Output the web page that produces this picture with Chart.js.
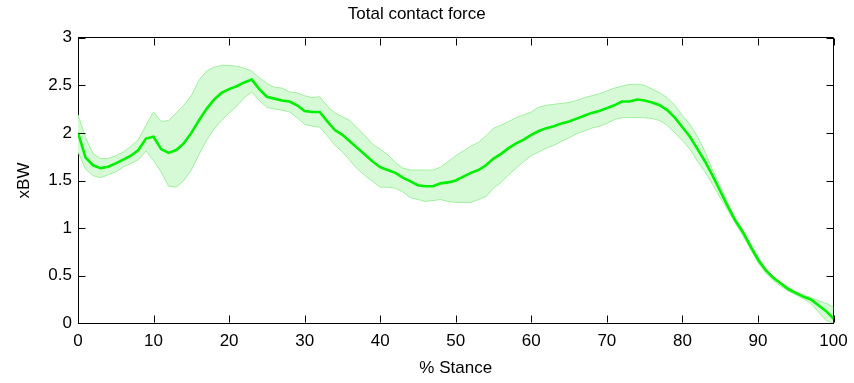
<!DOCTYPE html>
<html>
<head>
<meta charset="utf-8">
<script src="https://cdn.jsdelivr.net/npm/chart.js@4.4.1/dist/chart.umd.min.js"></script>
<style>
  html, body { margin: 0; padding: 0; background: #ffffff; }
  #wrap { width: 854px; height: 383px; }
</style>
</head>
<body>
<div id="wrap"><canvas id="chart" width="854" height="383"></canvas></div>
<script>
// Percent of stance phase, sampled every 1%
const stancePct = Array.from({ length: 101 }, (_, i) => i);

// Mean total contact force (x body weight)
const meanForce = [
  2.00, 1.74, 1.66, 1.63, 1.645, 1.68, 1.72, 1.76, 1.82, 1.94,
  1.96, 1.83, 1.79, 1.82, 1.89, 2.00, 2.13, 2.25, 2.35, 2.42,
  2.46, 2.49, 2.53, 2.56, 2.46, 2.38, 2.36, 2.34, 2.33, 2.29,
  2.23, 2.22, 2.22, 2.12, 2.03, 1.98, 1.91, 1.84, 1.77, 1.70,
  1.64, 1.61, 1.58, 1.53, 1.49, 1.45, 1.44, 1.44, 1.47, 1.48,
  1.50, 1.54, 1.58, 1.61, 1.66, 1.73, 1.78, 1.84, 1.89, 1.93,
  1.98, 2.02, 2.05, 2.07, 2.10, 2.12, 2.15, 2.18, 2.21, 2.23,
  2.26, 2.29, 2.33, 2.33, 2.35, 2.34, 2.32, 2.29, 2.24, 2.16,
  2.06, 1.96, 1.83, 1.70, 1.55, 1.39, 1.23, 1.08, 0.96, 0.81,
  0.67, 0.56, 0.48, 0.42, 0.36, 0.32, 0.28, 0.25, 0.19, 0.13,
  0.05
];

// Upper edge of the variability band
const upperForce = [
  2.19, 1.95, 1.78, 1.73, 1.73, 1.76, 1.80, 1.86, 1.93, 2.08,
  2.22, 2.12, 2.13, 2.21, 2.29, 2.39, 2.55, 2.65, 2.69, 2.71,
  2.71, 2.70, 2.68, 2.65, 2.58, 2.52, 2.48, 2.47, 2.43, 2.42,
  2.39, 2.37, 2.38, 2.28, 2.21, 2.17, 2.13, 2.05, 1.97, 1.88,
  1.83, 1.77, 1.69, 1.63, 1.61, 1.61, 1.61, 1.61, 1.64, 1.70,
  1.76, 1.81, 1.86, 1.90, 1.97, 2.05, 2.08, 2.12, 2.16, 2.19,
  2.22, 2.27, 2.29, 2.30, 2.31, 2.32, 2.34, 2.37, 2.39, 2.41,
  2.44, 2.47, 2.49, 2.51, 2.51, 2.50, 2.46, 2.42, 2.37, 2.29,
  2.18, 2.09, 1.96, 1.80, 1.61, 1.44, 1.27, 1.10, 0.98, 0.84,
  0.70, 0.58, 0.49, 0.43, 0.38, 0.33, 0.30, 0.27, 0.24, 0.21,
  0.17
];

// Lower edge of the variability band
const lowerForce = [
  1.80, 1.62, 1.55, 1.53, 1.56, 1.59, 1.64, 1.68, 1.72, 1.81,
  1.71, 1.59, 1.44, 1.43, 1.50, 1.61, 1.77, 1.92, 2.04, 2.13,
  2.21, 2.28, 2.37, 2.43, 2.34, 2.27, 2.25, 2.24, 2.22, 2.16,
  2.09, 2.07, 2.06, 1.97, 1.87, 1.80, 1.71, 1.62, 1.55, 1.49,
  1.43, 1.43, 1.42, 1.38, 1.32, 1.30, 1.28, 1.29, 1.30, 1.28,
  1.27, 1.27, 1.27, 1.30, 1.33, 1.42, 1.48, 1.56, 1.63, 1.70,
  1.76, 1.80, 1.84, 1.87, 1.91, 1.95, 1.99, 2.02, 2.05, 2.07,
  2.10, 2.14, 2.16, 2.16, 2.16, 2.16, 2.15, 2.13, 2.08, 2.00,
  1.92, 1.83, 1.70, 1.59, 1.46, 1.32, 1.19, 1.05, 0.92, 0.78,
  0.64, 0.53, 0.45, 0.39, 0.34, 0.30, 0.26, 0.21, 0.12, 0.03,
  0.00
];

const xTicks = [0, 10, 20, 30, 40, 50, 60, 70, 80, 90, 100];
const yTicks = [0, 0.5, 1, 1.5, 2, 2.5, 3];

const toPoints = arr => stancePct.map((x, i) => ({ x: x, y: arr[i] }));

const FONT = "'Liberation Sans', Arial, sans-serif";
const FONT_SIZE = 17;

// Short inward tick marks on all four sides of the plot box
const inwardTicks = {
  id: 'inwardTicks',
  afterDraw(chart) {
    const ctx = chart.ctx;
    const a = chart.chartArea;
    const sx = chart.scales.x, sy = chart.scales.y;
    const len = 7;
    const seg = (x0, y0, x1, y1) => {
      ctx.beginPath(); ctx.moveTo(x0, y0); ctx.lineTo(x1, y1); ctx.stroke();
    };
    ctx.save();
    ctx.strokeStyle = '#000000';
    ctx.lineWidth = 1;
    const T = Math.round(a.top) + 0.5, B = Math.round(a.bottom) - 0.5;
    const L = Math.round(a.left) + 0.5, R = Math.round(a.right) - 0.5;
    xTicks.forEach(v => {
      const px = Math.round(sx.getPixelForValue(v)) + 0.5;
      seg(px, B, px, B - len);
      seg(px, T, px, T + len);
    });
    yTicks.forEach(v => {
      const py = Math.round(sy.getPixelForValue(v)) + 0.5;
      seg(L, py, L + len, py);
      seg(R, py, R - len, py);
    });
    ctx.restore();
  }
};

new Chart(document.getElementById('chart'), {
  type: 'line',
  data: {
    datasets: [
      {
        label: 'upper',
        data: toPoints(upperForce),
        borderColor: 'rgb(160,240,160)',
        borderWidth: 1,
        backgroundColor: 'rgb(214,250,214)',
        fill: '+1',
        pointRadius: 0,
        tension: 0,
        order: 2
      },
      {
        label: 'lower',
        data: toPoints(lowerForce),
        borderColor: 'rgb(160,240,160)',
        borderWidth: 1,
        fill: false,
        pointRadius: 0,
        tension: 0,
        order: 1
      },
      {
        label: 'mean',
        data: toPoints(meanForce),
        borderColor: 'rgb(0,240,0)',
        borderWidth: 2.6,
        fill: false,
        pointRadius: 0,
        tension: 0,
        order: 0
      }
    ]
  },
  options: {
    responsive: false,
    animation: false,
    layout: { padding: { left: 0, right: 20.5, top: 0, bottom: 0 } },
    plugins: {
      legend: { display: false },
      tooltip: { enabled: false },
      title: {
        display: true,
        text: 'Total contact force',
        color: '#000000',
        font: { family: FONT, size: FONT_SIZE, weight: 'normal' },
        padding: { top: 3.8, bottom: 13.5 }
      }
    },
    scales: {
      x: {
        type: 'linear',
        min: 0,
        max: 100,
        afterBuildTicks: s => { s.ticks = xTicks.map(v => ({ value: v })); },
        afterFit: s => { s.height = 59.7; s.paddingLeft = 0; s.paddingRight = 0; },
        // only the line at the right end is drawn: the right side of the box
        grid: {
          display: true,
          drawOnChartArea: true,
          drawTicks: false,
          lineWidth: 1,
          color: c => (c.tick && c.tick.value === 100 ? '#000000' : 'rgba(0,0,0,0)')
        },
        border: { display: true, color: '#000000', width: 1 },
        ticks: {
          color: '#000000',
          font: { family: FONT, size: FONT_SIZE },
          padding: 8,
          maxRotation: 0,
          autoSkip: false,
          callback: v => String(v)
        },
        title: {
          display: true,
          text: '% Stance',
          color: '#000000',
          font: { family: FONT, size: FONT_SIZE },
          padding: { top: 0, bottom: 4.8 }
        }
      },
      y: {
        type: 'linear',
        min: 0,
        max: 3,
        afterBuildTicks: s => { s.ticks = yTicks.map(v => ({ value: v })); },
        afterFit: s => { s.width = 78; },
        // only the line at the top is drawn: the top side of the box
        grid: {
          display: true,
          drawOnChartArea: true,
          drawTicks: false,
          lineWidth: 1,
          color: c => (c.tick && c.tick.value === 3 ? '#000000' : 'rgba(0,0,0,0)')
        },
        border: { display: true, color: '#000000', width: 1 },
        ticks: {
          color: '#000000',
          font: { family: FONT, size: FONT_SIZE },
          padding: 6,
          autoSkip: false,
          callback: v => String(v)
        },
        title: {
          display: true,
          text: 'xBW',
          color: '#000000',
          font: { family: FONT, size: FONT_SIZE },
          padding: { top: 13.8, bottom: 0 }
        }
      }
    }
  },
  plugins: [inwardTicks]
});
</script>
</body>
</html>
